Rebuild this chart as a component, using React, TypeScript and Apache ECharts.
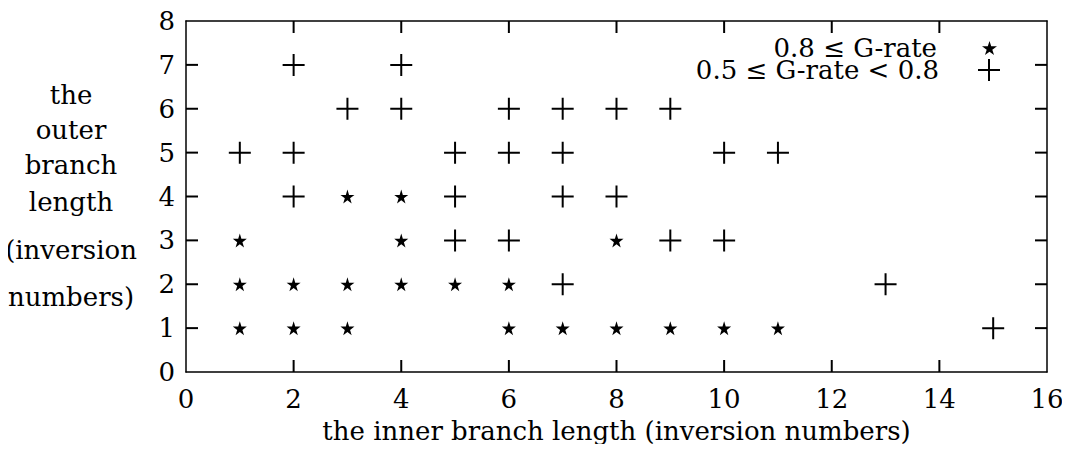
import React, { useEffect, useRef } from "react";
import * as echarts from "echarts";

// Inner branch length (x) and outer branch length (y), in inversion numbers
const highRatePoints: [number, number][] = [
  [1, 1], [2, 1], [3, 1], [6, 1], [7, 1], [8, 1], [9, 1], [10, 1], [11, 1],
  [1, 2], [2, 2], [3, 2], [4, 2], [5, 2], [6, 2],
  [1, 3], [4, 3], [8, 3],
  [3, 4], [4, 4],
];

const midRatePoints: [number, number][] = [
  [15, 1],
  [7, 2], [13, 2],
  [5, 3], [6, 3], [9, 3], [10, 3],
  [2, 4], [5, 4], [7, 4], [8, 4],
  [1, 5], [2, 5], [5, 5], [6, 5], [7, 5], [10, 5], [11, 5],
  [3, 6], [4, 6], [6, 6], [7, 6], [8, 6], [9, 6],
  [2, 7], [4, 7],
];

const highRateName = "0.8 ≤ G-rate";
const midRateName = "0.5 ≤ G-rate < 0.8";

// Axis ranges and tick positions
const xRange: [number, number] = [0, 16];
const yRange: [number, number] = [0, 8];
const xTickValues = [2, 4, 6, 8, 10, 12, 14];
const yTickValues = [1, 2, 3, 4, 5, 6, 7];

const yTitleLines = ["the", "outer", "branch", "length", "(inversion", "numbers)"];
const yTitleTops = [95, 130, 165, 202, 250, 297];

const FONT = "DejaVu Serif";
const FONT_SIZE = 26;
const TICK_LEN = 12;
const TICK_W = 2;
const STAR = "path://M50,0 L61,35 L98,35 L68,57 L79,91 L50,70 L21,91 L32,57 L2,35 L39,35 Z";
const PLUS = "path://M0,10 L20,10 M10,0 L10,20";

export default function App() {
  const ref = useRef<HTMLDivElement>(null);

  useEffect(() => {
    if (!ref.current) return;
    const chart = echarts.init(ref.current, undefined, { renderer: "svg" });

    const axisLine = () => ({ show: true, onZero: false, lineStyle: { color: "#000", width: 1.5 } });
    const label = () => ({ color: "#000", fontFamily: FONT, fontSize: FONT_SIZE });

    const yTitle = yTitleLines.map((t, i) => ({
      type: "text",
      id: `ytitle-${i}`,
      x: 71,
      y: yTitleTops[i],
      style: {
        text: t,
        fill: "#000",
        font: `${FONT_SIZE}px "${FONT}"`,
        align: "center",
        verticalAlign: "middle",
      },
    }));

    chart.setOption({
      animation: false,
      backgroundColor: "#fff",
      textStyle: { fontFamily: FONT, color: "#000" },
      grid: { left: 186, right: 23, top: 21, bottom: 80, outerBoundsMode: "none" },
      legend: [
        {
          data: [highRateName],
          right: 73,
          top: 35,
          padding: 0,
          align: "right",
          itemWidth: 15,
          itemHeight: 15,
          selectedMode: false,
          textStyle: { ...label(), lineHeight: 26, padding: [0, 40, 0, 0] },
        },
        {
          data: [midRateName],
          right: 69,
          top: 57,
          padding: 0,
          align: "right",
          itemWidth: 22,
          itemHeight: 22,
          selectedMode: false,
          textStyle: { ...label(), lineHeight: 26, padding: [0, 34, 0, 0] },
        },
      ],
      xAxis: [
        {
          type: "value",
          min: xRange[0],
          max: xRange[1],
          interval: 2,
          position: "bottom",
          axisLine: axisLine(),
          axisTick: { show: false },
          splitLine: { show: false },
          axisLabel: { ...label(), margin: 14 },
          name: "the inner branch length (inversion numbers)",
          nameLocation: "middle",
          nameGap: 46,
          nameTextStyle: label(),
        },
        {
          type: "value",
          min: xRange[0],
          max: xRange[1],
          interval: 2,
          position: "top",
          axisLine: axisLine(),
          axisTick: { show: false },
          splitLine: { show: false },
          axisLabel: { show: false },
        },
      ],
      yAxis: [
        {
          type: "value",
          min: yRange[0],
          max: yRange[1],
          interval: 1,
          position: "left",
          axisLine: axisLine(),
          axisTick: { show: false },
          splitLine: { show: false },
          axisLabel: { ...label(), margin: 11 },
        },
        {
          type: "value",
          min: yRange[0],
          max: yRange[1],
          interval: 1,
          position: "right",
          axisLine: axisLine(),
          axisTick: { show: false },
          splitLine: { show: false },
          axisLabel: { show: false },
        },
      ],
      graphic: yTitle,
      series: [
        {
          name: highRateName,
          type: "scatter",
          data: highRatePoints,
          symbol: STAR,
          symbolSize: 14,
          itemStyle: { color: "#000", opacity: 1 },
        },
        {
          name: midRateName,
          type: "scatter",
          data: midRatePoints,
          symbol: PLUS,
          symbolSize: 22,
          itemStyle: { color: "#000", borderColor: "#000", borderWidth: 2, opacity: 1 },
        },
      ],
    });

    // Inward ticks on all four sides of the frame, placed through the grid's scales
    const toPx = (p: [number, number]) => chart.convertToPixel({ gridIndex: 0 }, p) as number[];
    const tickLine = (id: string, x1: number, y1: number, x2: number, y2: number) => ({
      type: "line",
      id,
      z: 100,
      silent: true,
      shape: { x1, y1, x2, y2 },
      style: { stroke: "#000", lineWidth: TICK_W },
    });
    const ticks: any[] = [];
    xTickValues.forEach((v, i) => {
      const b = toPx([v, yRange[0]]);
      const t = toPx([v, yRange[1]]);
      ticks.push(tickLine(`xb-${i}`, b[0], b[1], b[0], b[1] - TICK_LEN));
      ticks.push(tickLine(`xt-${i}`, t[0], t[1], t[0], t[1] + TICK_LEN));
    });
    yTickValues.forEach((v, i) => {
      const l = toPx([xRange[0], v]);
      const r = toPx([xRange[1], v]);
      ticks.push(tickLine(`yl-${i}`, l[0], l[1], l[0] + TICK_LEN, l[1]));
      ticks.push(tickLine(`yr-${i}`, r[0], r[1], r[0] - TICK_LEN, r[1]));
    });
    chart.setOption({ graphic: [...yTitle, ...ticks] });

    return () => chart.dispose();
  }, []);

  return <div ref={ref} style={{ width: 1070, height: 452, margin: -8 }} />;
}
